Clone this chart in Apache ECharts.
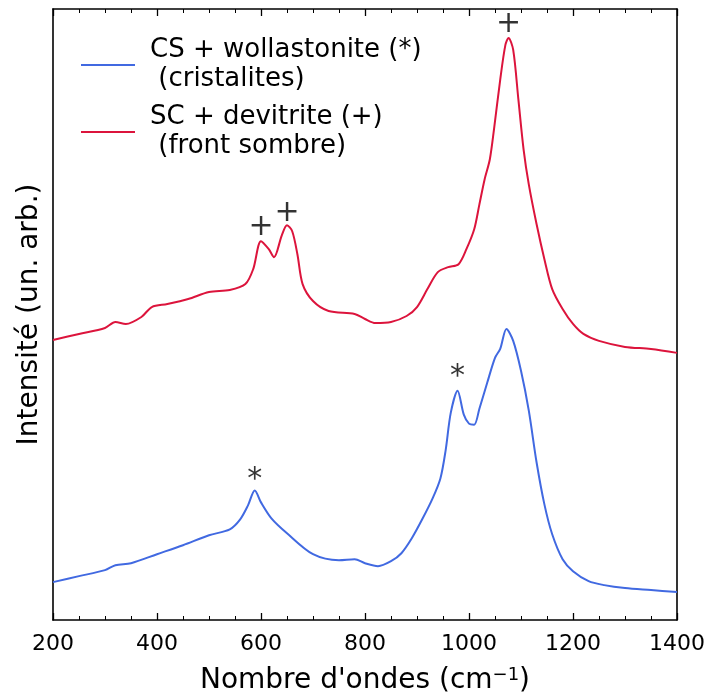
<!DOCTYPE html>
<html><head><meta charset="utf-8">
<script src="https://cdn.jsdelivr.net/npm/echarts@6/dist/echarts.min.js"></script>
<style>html,body{margin:0;padding:0;background:#fff}#c{width:711px;height:700px}</style>
</head><body><div id="c"></div>
<script>
// Wavenumbers (cm^-1) and intensities (arbitrary units)
const redX = [200,250,300,320,340,370,390,420,460,500,540,570,585,600,615,625,640,650,660,670,680,700,730,780,800,820,850,880,900,920,940,960,980,995,1010,1020,1030,1040,1048,1060,1070,1076,1085,1095,1105,1115,1130,1145,1160,1180,1200,1220,1250,1300,1350,1400];
const redY = [281,287,293,299,297,304,314,317,322,329,331,337,352,380,372,364,386,396,390,367,337,320,310,307,302,298,299,305,314,332,349,354,357,372,392,417,442,462,492,542,577,584,572,522,472,437,397,362,332,312,297,287,280,274,272,268];
const blueX = [200,250,300,320,350,400,450,500,540,560,575,588,600,620,650,700,750,780,800,825,850,870,890,910,930,945,955,965,978,990,1000,1010,1020,1035,1050,1060,1072,1085,1100,1115,1130,1145,1160,1180,1200,1230,1260,1300,1350,1400];
const blueY = [38,44,50,55,57,66,75,85,91,101,115,130,118,102,87,66,60,61,57,54,59,67,82,101,122,142,170,208,230,206,197,196,212,238,263,272,292,280,250,210,158,116,86,61,49,39,35,32,30,28];
const xTicks = [200,400,600,800,1000,1200,1400];
const names = ['CS + wollastonite (*)\n (cristalites)', 'SC + devitrite (+)\n (front sombre)'];
// annotation marks: [x, y, text]
const marks = [[600,394,'+'],[650,408,'+'],[1076,598,'+'],[588,140,'*'],[978,244,'*']];

const pair = (xs, ys) => xs.map((x, i) => [x, ys[i]]);
const font = 'DejaVu Sans';
const chart = echarts.init(document.getElementById('c'));
const axisCommon = {
  type: 'value', min: 200, max: 1400, interval: 200,
  axisLine: {onZero: false, lineStyle: {color: '#000', width: 1.6}},
  axisTick: {inside: true, length: 7, lineStyle: {color: '#000', width: 1.3}},
  minorTick: {show: true, splitNumber: 4, length: 4, lineStyle: {color: '#000', width: 1}},
  splitLine: {show: false}
};
chart.setOption({
  animation: false,
  textStyle: {fontFamily: font},
  grid: {left: 53, right: 34, top: 9, bottom: 77},
  legend: {
    orient: 'vertical', left: 76, top: 31, itemGap: 9,
    itemWidth: 54, itemHeight: 2, icon: 'rect',
    data: names,
    textStyle: {fontFamily: font, fontSize: 26, color: '#000', lineHeight: 29, padding: [0, 0, 0, 10]},
    itemStyle: {borderWidth: 0}
  },
  xAxis: [
    Object.assign({}, axisCommon, {
      position: 'bottom',
      axisLabel: {color: '#000', fontSize: 22, fontFamily: font, margin: 13,
        formatter: v => xTicks.includes(v) ? String(v) : ''},
      name: 'Nombre d\'ondes (cm{sup|−1})', nameLocation: 'middle', nameGap: 46,
      nameTextStyle: {color: '#000', fontSize: 28, fontFamily: font,
        rich: {sup: {fontSize: 18, verticalAlign: 'top', padding: [0, 0, 12, 0], color: '#000', fontFamily: font}}}
    }),
    Object.assign({}, axisCommon, {position: 'top', axisLabel: {show: false}})
  ],
  yAxis: [
    {type: 'value', min: 0, max: 613, position: 'left',
     axisLine: {show: true, onZero: false, lineStyle: {color: '#000', width: 1.6}},
     axisTick: {show: false}, axisLabel: {show: false}, splitLine: {show: false},
     name: 'Intensité (un. arb.)', nameLocation: 'middle', nameGap: 9,
     nameTextStyle: {color: '#000', fontSize: 28, fontFamily: font}},
    {type: 'value', min: 0, max: 613, position: 'right',
     axisLine: {show: true, onZero: false, lineStyle: {color: '#000', width: 1.6}},
     axisTick: {show: false}, axisLabel: {show: false}, splitLine: {show: false}}
  ],
  series: [
    {name: names[0], type: 'line', data: pair(blueX, blueY), showSymbol: false, smooth: 0.3,
     color: '#4169E1', lineStyle: {width: 2, color: '#4169E1'}},
    {name: names[1], type: 'line', data: pair(redX, redY), showSymbol: false, smooth: 0.3,
     color: '#DC143C', lineStyle: {width: 2, color: '#DC143C'}},
    {type: 'scatter', data: marks.map(m => ({value: [m[0], m[1]], name: m[2]})),
     symbolSize: 0, silent: true,
     label: {show: true, position: 'inside', formatter: p => p.name,
       color: '#000', fontSize: 30, fontFamily: font}}
  ]
});
</script></body></html>
